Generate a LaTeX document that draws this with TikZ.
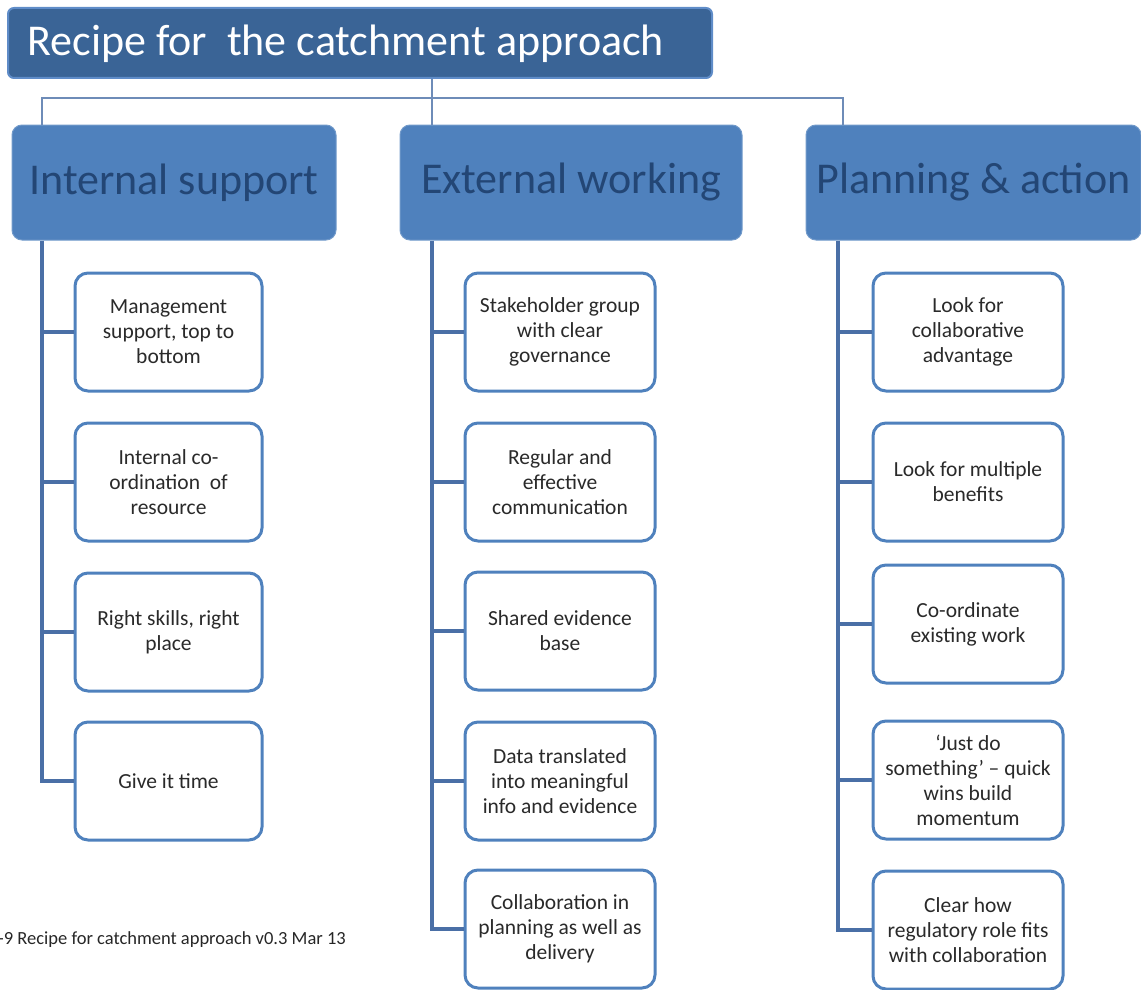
\documentclass[tikz,border=0pt]{standalone}
\usepackage{fontspec}
\setmainfont{Carlito}
\definecolor{titlefill}{HTML}{3A6496}
\definecolor{titleline}{HTML}{5F8CC8}
\definecolor{headfill}{HTML}{4F81BD}
\definecolor{headtext}{HTML}{234675}
\definecolor{conn}{HTML}{4A6FA6}
\definecolor{boxline}{HTML}{4F81BD}
\definecolor{childtext}{HTML}{2A2A2A}
\begin{document}
\begin{tikzpicture}[x=1pt,y=-1pt,
  titlebox/.style={draw=titleline,line width=2pt,fill=titlefill,rounded corners=6pt,minimum width=704pt,minimum height=70pt,inner sep=0pt},
  headbox/.style={fill=headfill,draw=headfill!80!white,line width=1pt,rounded corners=10pt,minimum height=115pt,inner sep=0pt,text=headtext,font=\fontsize{44}{48}\selectfont},
  childbox/.style={draw=boxline,line width=3pt,fill=white,rounded corners=13pt,minimum width=187pt,minimum height=118pt,inner sep=0pt,align=center,text=childtext,font=\fontsize{21.5}{25}\selectfont},
  topconn/.style={draw=conn!80!white,line width=2pt},
  trunk/.style={draw=conn,line width=3.5pt}]
\useasboundingbox (0,0) rectangle (1141,990);
% title
\node[titlebox] (title) at (360,43) {};
\node[anchor=west,text=white,font=\fontsize{44}{48}\selectfont] (titletext) at (24,44) {Recipe for\ \ the catchment approach};
% headers
\node[headbox,minimum width=324pt] (h1) at (174,182.5) {\raisebox{-3pt}{Internal support}};
\node[headbox,minimum width=342pt] (h2) at (571,182.5) {\raisebox{-3pt}{External working}};
\node[headbox,minimum width=335pt] (h3) at (973.5,182.5) {\raisebox{-3pt}{Planning \& action}};
% top connectors
\coordinate (jc) at (432,98);
\coordinate (jl) at (42,98);
\coordinate (jr) at (843,98);
\draw[topconn] (title.south -| jc) -- (jc);
\draw[topconn] (h1.north -| jl) -- (jl) -- (jr) -- (h3.north -| jr);
\draw[topconn] (jc) -- (h2.north -| jc);
% left column
\node[childbox] (a1) at (168.5,332) {Management\\support, top to\\bottom};
\node[childbox] (a2) at (168.5,482) {Internal co-\\ordination\ \ of\\resource};
\node[childbox] (a3) at (168.5,632) {Right skills, right\\place};
\node[childbox] (a4) at (168.5,781) {Give it time};
% middle column
\node[childbox,minimum width=190pt] (b1) at (560,332) {Stakeholder group\\with clear\\governance};
\node[childbox,minimum width=190pt] (b2) at (560,482) {Regular and\\effective\\communication};
\node[childbox,minimum width=190pt] (b3) at (560,631) {Shared evidence\\base};
\node[childbox,minimum width=190pt] (b4) at (560,781) {Data translated\\into meaningful\\info and evidence};
\node[childbox,minimum width=190pt] (b5) at (560,929) {Collaboration in\\planning as well as\\delivery};
% right column
\node[childbox,minimum width=190pt] (c1) at (968,332) {Look for\\collaborative\\advantage};
\node[childbox,minimum width=190pt] (c2) at (968,482) {Look for multiple\\benefits};
\node[childbox,minimum width=190pt] (c3) at (968,624) {Co-ordinate\\existing work};
\node[childbox,minimum width=190pt] (c4) at (968,780) {`Just do\\something' -- quick\\wins build\\momentum};
\node[childbox,minimum width=190pt] (c5) at (968,930) {Clear how\\regulatory role fits\\with collaboration};
% trunks
\coordinate (ta) at (42,0);
\coordinate (tb) at (432,0);
\coordinate (tc) at (838,0);
\draw[trunk] (h1.south -| ta) -- (a4.west -| ta) -- (a4.west);
\foreach \n in {a1,a2,a3} \draw[trunk] (\n.west -| ta) -- (\n.west);
\draw[trunk] (h2.south -| tb) -- (b5.west -| tb) -- (b5.west);
\foreach \n in {b1,b2,b3,b4} \draw[trunk] (\n.west -| tb) -- (\n.west);
\draw[trunk] (h3.south -| tc) -- (c5.west -| tc) -- (c5.west);
\foreach \n in {c1,c2,c3,c4} \draw[trunk] (\n.west -| tc) -- (\n.west);
% footer
\node[anchor=west,inner sep=0pt,text=black!85,font=\fontsize{18.5}{21}\selectfont] (foot) at (-2,940) {-9 Recipe for catchment approach v0.3 Mar 13};
\end{tikzpicture}
\end{document}
